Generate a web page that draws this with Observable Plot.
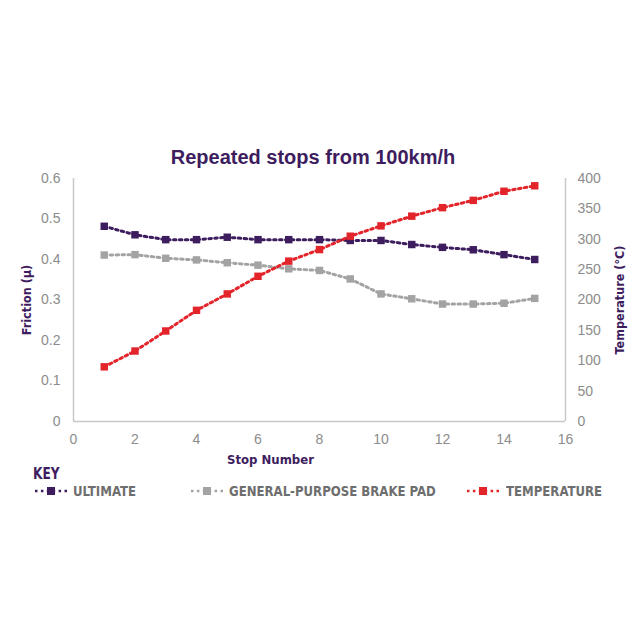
<!DOCTYPE html>
<html>
<head>
<meta charset="utf-8">
<script src="https://cdn.jsdelivr.net/npm/d3@7"></script>
<script src="https://cdn.jsdelivr.net/npm/@observablehq/plot@0.6"></script>
<style>
  html, body { margin: 0; padding: 0; background: #fff; }
  #wrap { position: relative; width: 640px; height: 640px; overflow: hidden; font-family: "Liberation Sans", Arial, sans-serif; }
  #title { position: absolute; left: 0; width: 626px; top: 145px; text-align: center; font-size: 20px; font-weight: bold; color: #3d1d5e; line-height: 24px; }
  #chart { position: absolute; left: 0; top: 168px; }
  .lg { position: absolute; font-family: "DejaVu Sans Condensed", sans-serif; font-weight: bold; font-size: 14.5px; line-height: 16px; color: #6e6e6e; white-space: nowrap; transform: scaleX(0.9); transform-origin: left center; }
  .sym { position: absolute; }
</style>
</head>
<body>
<div id="wrap">
  <div id="title">Repeated stops from 100km/h</div>
  <div id="chart"></div>
  <div id="legend"></div>
</div>
<script>
const stops = [1,2,3,4,5,6,7,8,9,10,11,12,13,14,15];
const ultimate = [0.482,0.461,0.449,0.449,0.455,0.449,0.449,0.449,0.447,0.447,0.437,0.430,0.424,0.412,0.400];
const generalPurpose = [0.411,0.412,0.403,0.399,0.392,0.386,0.377,0.373,0.352,0.315,0.303,0.290,0.290,0.292,0.304];
const temperature = [90,116,149,183,210,239,264,283,305,322,338,352,364,379,388];
const xTicks = [0,2,4,6,8,10,12,14,16];
const frictionTicks = [0,0.1,0.2,0.3,0.4,0.5,0.6];
const tempTicks = [0,50,100,150,200,250,300,350,400];
const seriesNames = ["ULTIMATE","GENERAL-PURPOSE BRAKE PAD","TEMPERATURE"];
const colors = ["#3d1d5e","#a3a3a3","#e3242b"];

const k = 0.6 / 400; // temperature -> friction axis
const rows = [];
stops.forEach((s, i) => {
  rows.push({stop: s, v: ultimate[i], series: seriesNames[0]});
  rows.push({stop: s, v: generalPurpose[i], series: seriesNames[1]});
  rows.push({stop: s, v: temperature[i] * k, series: seriesNames[2]});
});

const purple = colors[0];
const condensed = "'DejaVu Sans Condensed', sans-serif";
const chart = Plot.plot({
  width: 640,
  height: 305,
  marginTop: 10,
  marginBottom: 52,
  marginLeft: 73,
  marginRight: 75,
  style: {fontFamily: "'Liberation Sans', Arial, sans-serif", fontSize: "14px", color: "#8c8c8c", background: "transparent"},
  x: {domain: [0, 16]},
  y: {domain: [0, 0.6]},
  color: {domain: seriesNames, range: colors},
  marks: [
    Plot.ruleY([0], {stroke: "#c8c8c8", strokeWidth: 1.5}),
    Plot.ruleX([0, 16], {y1: 0, y2: 0.6, stroke: "#c8c8c8", strokeWidth: 1.5}),
    Plot.axisX({ticks: xTicks, tickSize: 0, tickPadding: 13, label: null}),
    Plot.axisY({ticks: frictionTicks, anchor: "left", tickSize: 0, tickPadding: 13, label: null,
      tickFormat: d => d === 0 ? "0" : d.toFixed(1)}),
    Plot.axisY(tempTicks.map(t => t * k), {anchor: "right", tickSize: 0, tickPadding: 12, label: null,
      tickFormat: d => String(Math.round(d / k))}),
    Plot.line(rows, {x: "stop", y: "v", z: "series", stroke: "series", strokeWidth: 3, strokeDasharray: "2.5,3.4"}),
    Plot.dot(rows, {x: "stop", y: "v", fill: "series", symbol: "square", r: 4.2, stroke: null}),
    Plot.text(["Friction (μ)"], {frameAnchor: "left", dx: -47, rotate: -90, textAnchor: "middle", fill: purple, fontWeight: "bold", fontSize: 12.5, fontFamily: condensed}),
    Plot.text(["Temperature (°C)"], {frameAnchor: "right", dx: 54, rotate: -90, textAnchor: "middle", fill: purple, fontWeight: "bold", fontSize: 12.5, fontFamily: condensed}),
    Plot.text(["Stop Number"], {frameAnchor: "bottom", dx: -49, dy: 42, textAnchor: "middle", fill: purple, fontWeight: "bold", fontSize: 13, fontFamily: condensed})
  ]
});
document.getElementById("chart").appendChild(chart);

// Legend
const legend = document.getElementById("legend");
const key = document.createElement("div");
key.className = "lg";
key.textContent = "KEY";
key.style.cssText = "left:33px;top:466px;color:" + purple + ";font-size:15px;";
legend.appendChild(key);
const itemPos = [{sx: 34, tx: 73}, {sx: 190, tx: 229}, {sx: 466, tx: 506}];
seriesNames.forEach((name, i) => {
  const svgNS = "http://www.w3.org/2000/svg";
  const s = document.createElementNS(svgNS, "svg");
  s.setAttribute("width", 34); s.setAttribute("height", 12);
  s.setAttribute("class", "sym");
  s.style.left = itemPos[i].sx + "px"; s.style.top = "485px";
  const ln = document.createElementNS(svgNS, "line");
  ln.setAttribute("x1", 1); ln.setAttribute("x2", 33); ln.setAttribute("y1", 6); ln.setAttribute("y2", 6);
  ln.setAttribute("stroke", colors[i]); ln.setAttribute("stroke-width", 2.5); ln.setAttribute("stroke-dasharray", "2.5,3.4");
  s.appendChild(ln);
  const r = document.createElementNS(svgNS, "rect");
  r.setAttribute("x", 13); r.setAttribute("y", 2); r.setAttribute("width", 8); r.setAttribute("height", 8);
  r.setAttribute("fill", colors[i]);
  s.appendChild(r);
  legend.appendChild(s);
  const t = document.createElement("div");
  t.className = "lg";
  t.textContent = name;
  t.style.left = itemPos[i].tx + "px"; t.style.top = "483px";
  legend.appendChild(t);
});
</script>
</body>
</html>
